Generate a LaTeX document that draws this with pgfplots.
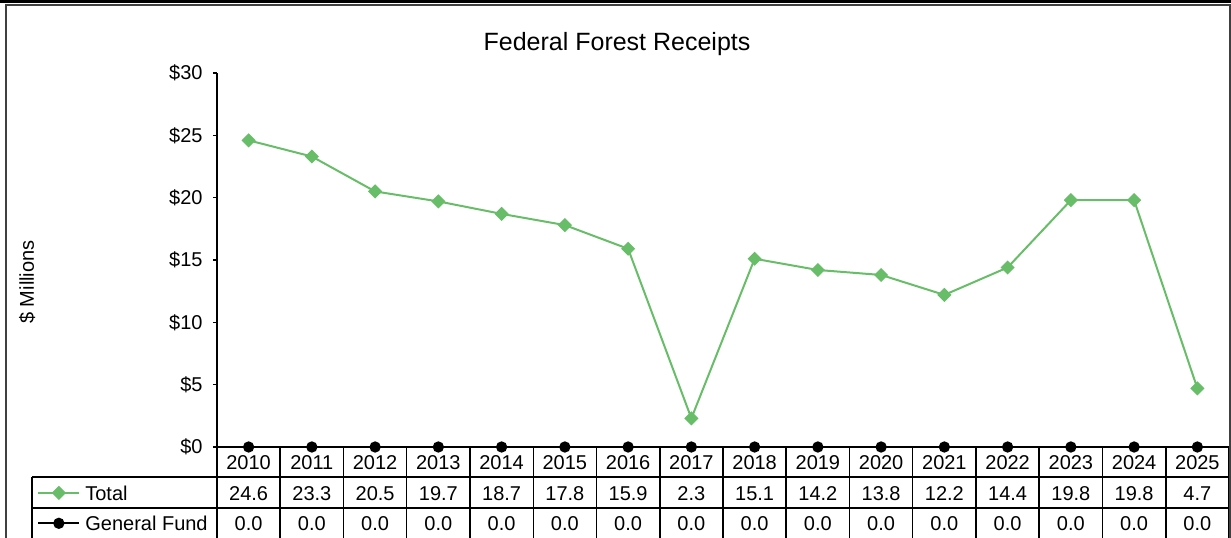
\documentclass[border=0pt]{standalone}
\usepackage{fontspec}
\setmainfont{Liberation Sans}
\usepackage{pgfplots}
\usepackage{pgfplotstable}
\pgfplotsset{compat=1.18}

\definecolor{totalgreen}{RGB}{104,189,104}

% Federal forest receipts, $ millions
\pgfplotstableread{
year total general
2010 24.6 0.0
2011 23.3 0.0
2012 20.5 0.0
2013 19.7 0.0
2014 18.7 0.0
2015 17.8 0.0
2016 15.9 0.0
2017 2.3 0.0
2018 15.1 0.0
2019 14.2 0.0
2020 13.8 0.0
2021 12.2 0.0
2022 14.4 0.0
2023 19.8 0.0
2024 19.8 0.0
2025 4.7 0.0
}\receipts

\newcommand{\cell}[2]{\pgfplotstablegetelem{#1}{#2}\of\receipts\pgfmathprintnumber[fixed,fixed zerofill,precision=1]{\pgfplotsretval}}

\begin{document}
\begin{tikzpicture}[font=\fontsize{10}{12}\selectfont]
\begin{axis}[
  scale only axis,
  width=506pt, height=187pt,
  xmin=2009.5, xmax=2025.5,
  ymin=0, ymax=30,
  clip=false,
  axis lines=left,
  axis line style={-, line width=0.75pt},
  tick align=outside,
  major tick length=2pt,
  minor tick length=46pt,
  tick style={black, line width=0.75pt},
  major x tick style={draw=none},
  xtick=data,
  minor xtick={2009.5,2010.5,...,2025.5},
  xticklabel={\pgfplotstablegetelem{\ticknum}{year}\of\receipts\pgfplotsretval\\
    \cell{\ticknum}{total}\\
    \cell{\ticknum}{general}},
  xticklabel style={anchor=north, inner sep=0pt, align=center,
    font=\fontsize{10}{15.25}\selectfont, yshift=-2.3pt},
  /pgf/number format/assume math mode=true,
  ytick={0,5,...,30},
  yticklabels={\$0,\$5,\$10,\$15,\$20,\$25,\$30},
  yticklabel style={inner sep=0pt, xshift=-5pt},
  title={Federal Forest Receipts},
  title style={at={(axis description cs:0.3953,1.0455)}, anchor=center,
    font=\fontsize{12.5}{15}\selectfont},
  ylabel={\$ Millions},
  every axis y label/.style={at={(axis description cs:-0.1877,0.4412)},
    rotate=90, anchor=center},
  legend cell align=left,
  legend image code/.code={\draw[mark repeat=2,mark phase=2,#1]
    plot coordinates {(0pt,0pt)(10.25pt,0pt)(20.5pt,0pt)};},
  legend style={at={(axis description cs:-0.1779,-0.1024)}, anchor=north west,
    draw=none, fill=none, inner sep=0pt, row sep=8pt,
    nodes={inner sep=0pt, text height=7.2pt, text depth=0pt},
    /tikz/every odd column/.append style={column sep=2.5pt}},
]
\addplot[totalgreen, line width=1pt, mark=square*,
  mark options={rotate=45, mark size=2pt, solid}]
  table[x=year, y=total] {\receipts};
\addlegendentry{Total}
\addplot[black, line width=1pt, mark=*, mark options={mark size=2.3pt}]
  table[x=year, y=general] {\receipts};
\addlegendentry{General Fund}
\coordinate (O) at (rel axis cs:0,0);
\end{axis}
% data table rules and chart frame
\draw[line width=0.75pt] ([shift={(-92.5pt,-15pt)}]O) -- ([shift={(506pt,-15pt)}]O);
\draw[line width=0.75pt] ([shift={(-92.5pt,-30.5pt)}]O) -- ([shift={(506pt,-30.5pt)}]O);
\draw[line width=0.75pt] ([shift={(-92.5pt,-15pt)}]O) -- ([shift={(-92.5pt,-50pt)}]O);
\draw[black!75, line width=0.6pt] ([shift={(-105.5pt,-50pt)}]O) rectangle ([shift={(506.5pt,221pt)}]O);
\fill[black] ([shift={(-112pt,221.9pt)}]O) rectangle ([shift={(512pt,226pt)}]O);
\pgfresetboundingbox
\path[use as bounding box] ([shift={(-108.5pt,-45pt)}]O) rectangle ([shift={(507pt,223.5pt)}]O);
\end{tikzpicture}
\end{document}
